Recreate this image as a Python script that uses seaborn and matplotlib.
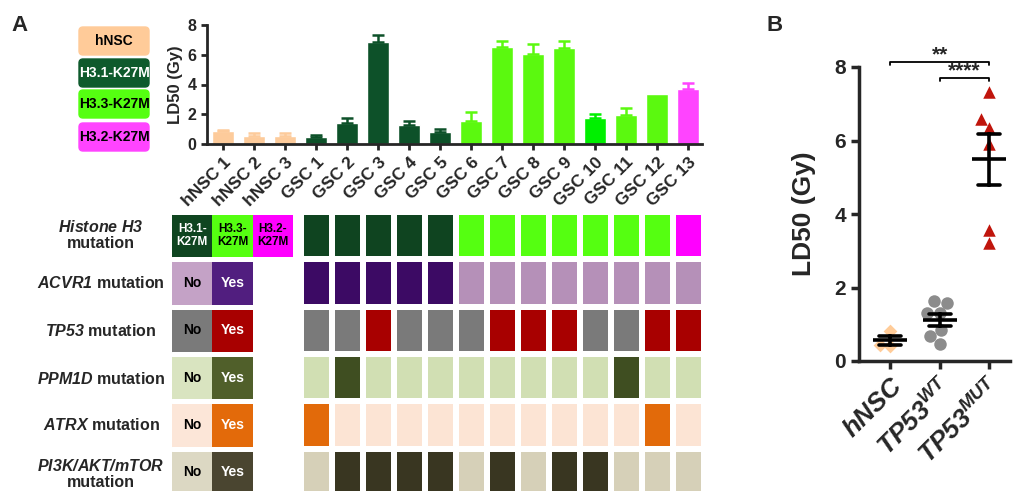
import numpy as np
import pandas as pd
import matplotlib
matplotlib.use('Agg')
import matplotlib.pyplot as plt
from matplotlib.colors import ListedColormap
from matplotlib.patches import FancyBboxPatch
import seaborn as sns

# ---- data -------------------------------------------------------------
cells = ['hNSC 1', 'hNSC 2', 'hNSC 3'] + ['GSC %d' % i for i in range(1, 14)]
ld50 = [0.87, 0.55, 0.55, 0.50, 1.40, 6.85, 1.27, 0.82, 1.55, 6.50, 6.05, 6.45, 1.73, 1.95, 3.37, 3.70]
ld50_err = [0.05, 0.20, 0.17, 0.10, 0.33, 0.45, 0.28, 0.16, 0.59, 0.40, 0.65, 0.45, 0.27, 0.47, 0.0, 0.40]
bar_colors = ['#FDCB9B'] * 3 + ['#0D5129'] * 5 + ['#5BF90F'] * 4 + ['#00F000', '#5BF90F', '#5BF90F', '#FF44FF']

histone_names = ['H3.1-K27M', 'H3.3-K27M', 'H3.2-K27M']
histone_gsc = [0, 0, 0, 0, 0, 1, 1, 1, 1, 1, 1, 1, 2]
acvr1 = [1, 1, 1, 1, 1, 0, 0, 0, 0, 0, 0, 0, 0]
tp53 = [0, 0, 1, 0, 0, 0, 1, 1, 1, 0, 0, 1, 1]
ppm1d = [0, 1, 0, 0, 0, 0, 0, 0, 0, 0, 1, 0, 0]
atrx = [1, 0, 0, 0, 0, 0, 0, 0, 0, 0, 0, 1, 0]
pi3k = [0, 1, 1, 1, 1, 0, 1, 0, 1, 1, 0, 0, 0]
row_labels = [r'$\mathit{Histone\ H3}$' + '\nmutation', r'$\mathit{ACVR1}$ mutation',
              r'$\mathit{TP53}$ mutation', r'$\mathit{PPM1D}$ mutation',
              r'$\mathit{ATRX}$ mutation', r'$\mathit{PI3K/AKT/mTOR}$' + '\nmutation']

# colours: histone (3), then No/Yes for each mutation row
grid_colors = ['#0F4420', '#55FF11', '#FF00FF',
               '#B590B8', '#3C0A64', '#7A7A7A', '#A80000', '#D1DFB3', '#3F4E21',
               '#FCE4D4', '#E26A0A', '#D6D0B8', '#393621']
key_colors = ['#0F4520', '#55FF11', '#FF00FF',
              '#C4A2C6', '#511E7F', '#7A7A7A', '#A80000', '#D9E4C0', '#505F2A',
              '#FCE6D8', '#E36A0A', '#DCD8C3', '#4A4530']

legend_names = ['hNSC', 'H3.1-K27M', 'H3.3-K27M', 'H3.2-K27M']
legend_colors = ['#FFCB99', '#0E5A2C', '#55FF11', '#FF44FF']
legend_text = ['black', 'white', 'black', 'black']

groups_b = ['hNSC', 'TP53 WT', 'TP53 MUT']
group_labels_b = ['hNSC', r'TP53$^{\mathit{WT}}$', r'TP53$^{\mathit{MUT}}$']
hnsc_b = [0.82, 0.42, 0.44]
wt_b = [1.59, 1.63, 1.30, 1.31, 0.83, 0.68, 0.46]
mut_b = [7.33, 6.59, 6.33, 5.90, 3.56, 3.22]

# ---- style ------------------------------------------------------------
sns.set_style('ticks')
plt.rcParams['font.family'] = ['Liberation Sans', 'DejaVu Sans']
plt.rcParams['mathtext.fontset'] = 'custom'
plt.rcParams['mathtext.it'] = 'Liberation Sans:italic:bold'
plt.rcParams['mathtext.rm'] = 'Liberation Sans:italic:bold'
plt.rcParams['mathtext.bf'] = 'Liberation Sans:italic:bold'

W, H = 1013, 491
fig = plt.figure(figsize=(W / 100, H / 100), dpi=100)


def rect(x0, y0, x1, y1):
    return [x0 / W, 1 - y1 / H, (x1 - x0) / W, (y1 - y0) / H]


# ---- A: bar chart -----------------------------------------------------
dfA = pd.DataFrame({'cell': cells, 'ld50': ld50})
axA = fig.add_axes(rect(207, 25, 702, 144))
sns.barplot(data=dfA, x='cell', y='ld50', hue='cell', palette=bar_colors, legend=False,
            width=0.72, errorbar=None, saturation=1, ax=axA)
for i, (v, e) in enumerate(zip(ld50, ld50_err)):
    if e > 0:
        axA.errorbar(i, v, yerr=[[0], [e]], fmt='none', ecolor=bar_colors[i],
                     elinewidth=1.8, capsize=4, capthick=1.8)
axA.set_xlim(-0.52, 15.45)
axA.set_ylim(0, 8)
axA.set_yticks([0, 2, 4, 6, 8])
sns.despine(ax=axA)
for s in ['left', 'bottom']:
    axA.spines[s].set_linewidth(2)
axA.tick_params(width=2, length=4, labelsize=11.5)
axA.set_xticks(range(len(cells)))
axA.set_xticklabels(cells, rotation=45, ha='right', rotation_mode='anchor',
                    fontsize=12.5, fontweight='bold')
for t in axA.get_yticklabels():
    t.set_fontweight('bold')
axA.set_xlabel('')
axA.set_ylabel('LD50 (Gy)', fontsize=12, fontweight='bold', labelpad=3)

# ---- A: mutation grid -------------------------------------------------
mut_rows = [acvr1, tp53, ppm1d, atrx, pi3k]
grid_codes = np.array([histone_gsc] + [[3 + 2 * k + v for v in r] for k, r in enumerate(mut_rows)], dtype=float)
axG = fig.add_axes(rect(301, 211.8, 704, 496.2))
sns.heatmap(grid_codes, cmap=ListedColormap(grid_colors), vmin=-0.5, vmax=len(grid_colors) - 0.5,
            cbar=False, linewidths=3.2, linecolor='white', xticklabels=False, yticklabels=False, ax=axG)

# key
key_codes = np.array([[0, 1, 2]] + [[3 + 2 * k, 4 + 2 * k, np.nan] for k in range(5)])
key_text = np.array([[n.replace('-', '-\n') for n in histone_names]] + [['No', 'Yes', '']] * 5)
axK = fig.add_axes(rect(172, 211.8, 293, 496.2))
sns.heatmap(key_codes, cmap=ListedColormap(key_colors), vmin=-0.5, vmax=len(key_colors) - 0.5,
            cbar=False, linewidths=0, annot=key_text, fmt='',
            annot_kws={'fontweight': 'bold', 'fontsize': 10},
            xticklabels=False, yticklabels=False, ax=axK)
for t in axK.texts:
    txt = t.get_text()
    t.set_color('white' if txt in ('Yes', 'H3.1-\nK27M') else 'black')
    if 'K27M' in txt:
        t.set_fontsize(8.5)
for y in range(7):
    axK.axhline(y, color='white', lw=3.6)

# ---- B: scatter -------------------------------------------------------
dfB = pd.DataFrame({'group': ['hNSC'] * len(hnsc_b) + ['TP53 WT'] * len(wt_b) + ['TP53 MUT'] * len(mut_b),
                    'ld50': hnsc_b + wt_b + mut_b})
axB = fig.add_axes(rect(859, 67, 1010, 361))
for g, m, c, sz in zip(groups_b, ['D', 'o', '^'], ['#FFCC99', '#8C8C8C', '#C0150C'], [7, 9, 9]):
    sns.swarmplot(data=dfB[dfB.group == g], x='group', y='ld50', order=groups_b,
                  marker=m, color=c, size=sz, ax=axB, zorder=2)
sns.pointplot(data=dfB, x='group', y='ld50', order=groups_b, errorbar='se', color='black',
              markers='_', markersize=24, markeredgewidth=2.6, linestyle='none',
              capsize=0.45, err_kws={'linewidth': 2.6}, ax=axB, zorder=3)
axB.set_xlim(-0.63, 2.42)
axB.set_ylim(0, 8)
axB.set_yticks([0, 2, 4, 6, 8])
sns.despine(ax=axB)
for s in ['left', 'bottom']:
    axB.spines[s].set_linewidth(2.5)
axB.tick_params(width=2.5, length=6, labelsize=15)
for t in axB.get_yticklabels():
    t.set_fontweight('bold')
axB.set_xticks(range(3))
axB.set_xticklabels(group_labels_b, rotation=45, ha='right', rotation_mode='anchor',
                    fontsize=19, fontweight='bold', fontstyle='italic')
axB.set_xlabel('')
axB.set_ylabel('LD50 (Gy)', fontsize=19, fontweight='bold', labelpad=13)

# significance brackets
for (x0, x1), yb, star in [((0, 2), 8.14, '**'), ((1, 2), 7.69, '****')]:
    axB.plot([x0, x0, x1, x1], [yb - 0.08, yb, yb, yb - 0.08], color='black', lw=1.3, clip_on=False)
    axB.text((x0 + x1) / 2, yb - 0.06, star, ha='center', va='bottom', fontsize=15,
             fontweight='bold', clip_on=False)

# ---- overlay: panel letters, legend boxes, row labels -----------------
ov = fig.add_axes([0, 0, 1, 1])
ov.set_xlim(0, W)
ov.set_ylim(H, 0)
ov.axis('off')
ov.patch.set_visible(False)
ov.text(11, 25, 'A', fontsize=16, fontweight='bold', va='center')
ov.text(767, 25, 'B', fontsize=16, fontweight='bold', va='center')
box_y = [26, 58, 89, 122]
for name, col, tc, y0 in zip(legend_names, legend_colors, legend_text, box_y):
    ov.add_patch(FancyBboxPatch((79, y0 + 1), 70, 28, boxstyle='round,pad=0,rounding_size=4',
                                facecolor=col, edgecolor=col, lw=1))
    ov.text(114, y0 + 15, name, ha='center', va='center', color=tc, fontsize=10, fontweight='bold')

row_y = [235, 283.5, 330.5, 378.5, 425.5, 474]
for lab, y in zip(row_labels, row_y):
    ov.text(101, y, lab, ha='center', va='center', fontsize=11.5, fontweight='bold',
            linespacing=1.05)

fig.savefig('out.png', dpi=100)
